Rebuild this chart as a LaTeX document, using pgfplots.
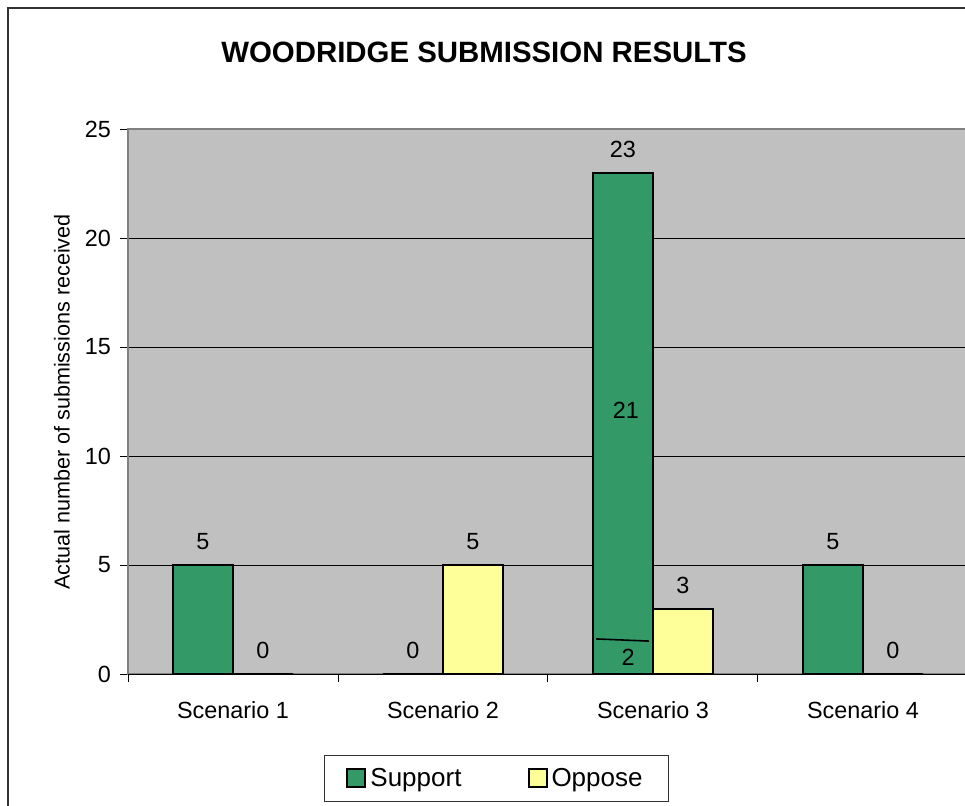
\documentclass[border=0pt]{standalone}
\usepackage{pgfplots}
\pgfplotsset{compat=1.18}
\usepackage{fontspec}
\setmainfont{Liberation Sans}
\definecolor{plotgray}{HTML}{C0C0C0}
\definecolor{bordergray}{HTML}{808080}
\definecolor{supportgreen}{HTML}{339966}
\definecolor{opposeyellow}{HTML}{FFFF99}

\begin{document}
\begin{tikzpicture}
\useasboundingbox (0,0) rectangle (482.5pt,-402.5pt);
% chart area frame (cut off at right and bottom)
\draw[line width=1pt, black!80] (4pt,-420pt) -- (4pt,-4pt) -- (500pt,-4pt);
\node[font=\fontsize{14.7}{16}\selectfont\bfseries] at (242pt,-26pt) {WOODRIDGE SUBMISSION RESULTS};
\node[rotate=90, font=\fontsize{10.8}{12}\selectfont] at (31pt,-201pt) {Actual number of submissions received};
\begin{axis}[
    at={(64pt,-337pt)}, anchor=south west,
    scale only axis, width=420pt, height=272.5pt,
    xmin=-0.5, xmax=3.5, ymin=0, ymax=25,
    axis background/.style={fill=plotgray},
    axis line style={draw=bordergray, line width=1pt},
    ytick={0,5,10,15,20,25},
    xtick={0,1,2,3},
    xticklabels={Scenario 1, Scenario 2, Scenario 3, Scenario 4},
    minor xtick={-0.5,0.5,1.5,2.5,3.5},
    major x tick style={draw=none},
    tick style={black, line width=0.5pt},
    tick align=outside,
    major tick length=4pt, minor tick length=4pt,
    xtick pos=bottom, ytick pos=left,
    ymajorgrids, major grid style={black, line width=0.5pt},
    /pgf/number format/assume math mode=true,
    ticklabel style={font=\fontsize{11.7}{13}\selectfont},
    yticklabel style={xshift=-1pt},
    xticklabel style={yshift=-6pt},
    legend style={at={(0.4387,-0.1917)}, anchor=center, legend columns=2,
        draw=black!80, line width=0.5pt, fill=white,
        font=\fontsize{13}{15}\selectfont, inner xsep=11pt, inner ysep=4pt,
        /tikz/every even column/.append style={column sep=31pt}},
    legend image code/.code={\draw[#1, line width=1pt] (0pt,-4.5pt) rectangle (9pt,4.5pt);},
    every node near coord/.append style={font=\fontsize{11.7}{13}\selectfont, anchor=base, yshift=7.75pt, black},
]
\addplot[ybar, bar width=0.2857, bar shift=-0.1429, draw=black, line width=1pt,
    fill=supportgreen, nodes near coords,
    every node near coord/.append style={xshift=-15pt}]
    coordinates {(0,5) (1,0) (2,23) (3,5)};
\addplot[ybar, bar width=0.2857, bar shift=0.1429, draw=black, line width=1pt,
    fill=opposeyellow, nodes near coords,
    every node near coord/.append style={xshift=15pt}]
    coordinates {(0,0) (1,5) (2,3) (3,0)};
% segment line inside the Scenario 3 support bar
\addplot[black, line width=0.8pt, forget plot] coordinates {(1.729,1.61) (1.981,1.51)};
\node[font=\fontsize{11.7}{13}\selectfont] at (axis cs:1.871,12.1) {21};
\node[font=\fontsize{11.7}{13}\selectfont] at (axis cs:1.881,0.78) {2};
\draw[black, line width=0.5pt] (rel axis cs:0,0) -- (rel axis cs:1,0);
\legend{Support, Oppose}
\end{axis}
\end{tikzpicture}
\end{document}
